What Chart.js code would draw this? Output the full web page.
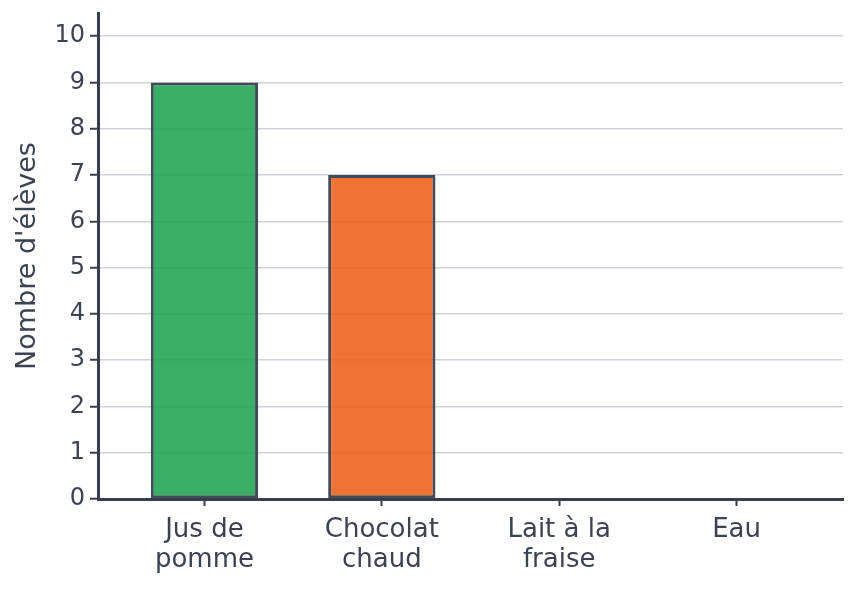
<!DOCTYPE html>
<html lang="fr">
<head>
    <meta charset="UTF-8">
    <title>Boissons préférées</title>
    <script src="https://cdn.jsdelivr.net/npm/chart.js"></script>
    <style>
        html, body { margin: 0; padding: 0; background: #ffffff; }
        #wrap { width: 857px; height: 593px; }
    </style>
</head>
<body>
    <div id="wrap"><canvas id="grafico" width="857" height="593"></canvas></div>
    <script>
    // données du graphique
    const categories = [["Jus de", "pomme"], ["Chocolat", "chaud"], ["Lait à la", "fraise"], ["Eau"]];
    const valeurs = [9, 7, 0, 0];
    const couleurs = ["rgba(36, 166, 84, 0.9)", "rgba(236, 100, 30, 0.9)", "rgba(120, 120, 200, 0.9)", "rgba(60, 140, 220, 0.9)"];
    const yTicks = [0, 1, 2, 3, 4, 5, 6, 7, 8, 9, 10];

    const encre = "#3b4252";
    const axe = "#373e4d";
    const grille = "#d0d3d9";
    const police = "'DejaVu Sans', sans-serif";

    let ctx = document.getElementById("grafico").getContext("2d");
    new Chart(ctx, {
        type: "bar",
        data: {
            datasets: [{
                data: valeurs.map(function(v, i) { return { x: i, y: v }; }),
                backgroundColor: couleurs,
                borderColor: "#434a57",
                borderWidth: 3,
                borderSkipped: false,
                barPercentage: 0.605,
                categoryPercentage: 1.0
            }]
        },
        options: {
            responsive: false,
            animation: false,
            layout: { padding: { top: 13, right: 14, left: 0, bottom: 0 } },
            plugins: { legend: { display: false }, tooltip: { enabled: false } },
            scales: {
                x: {
                    type: "linear",
                    offset: false,
                    min: -0.6,
                    max: 3.6,
                    afterBuildTicks: function(scale) {
                        scale.ticks = categories.map(function(c, i) { return { value: i }; });
                    },
                    afterFit: function(scale) { scale.height = 94; },
                    ticks: {
                        color: encre,
                        font: { family: police, size: 26, lineHeight: 1.15 },
                        padding: 9,
                        maxRotation: 0,
                        autoSkip: false,
                        callback: function(value) { return categories[value]; }
                    },
                    grid: { offset: false, drawOnChartArea: false, drawTicks: true, tickLength: 7, tickColor: axe, tickWidth: 2 },
                    border: { color: axe, width: 3 }
                },
                y: {
                    min: 0,
                    max: 10.5,
                    afterBuildTicks: function(scale) {
                        scale.ticks = yTicks.map(function(v) { return { value: v }; });
                    },
                    afterFit: function(scale) {
                        scale.width = 98;
                        scale.paddingTop = 0;
                    },
                    title: {
                        display: true,
                        text: "Nombre d'élèves",
                        color: encre,
                        font: { family: police, size: 27 },
                        padding: { top: 12, bottom: 0 }
                    },
                    ticks: {
                        color: encre,
                        font: { family: police, size: 24 },
                        padding: 5
                    },
                    grid: { color: grille, lineWidth: 1.5, drawTicks: true, tickLength: 8, tickColor: axe, tickWidth: 2 },
                    border: { color: axe, width: 3 }
                }
            }
        }
    });
    </script>
</body>
</html>
